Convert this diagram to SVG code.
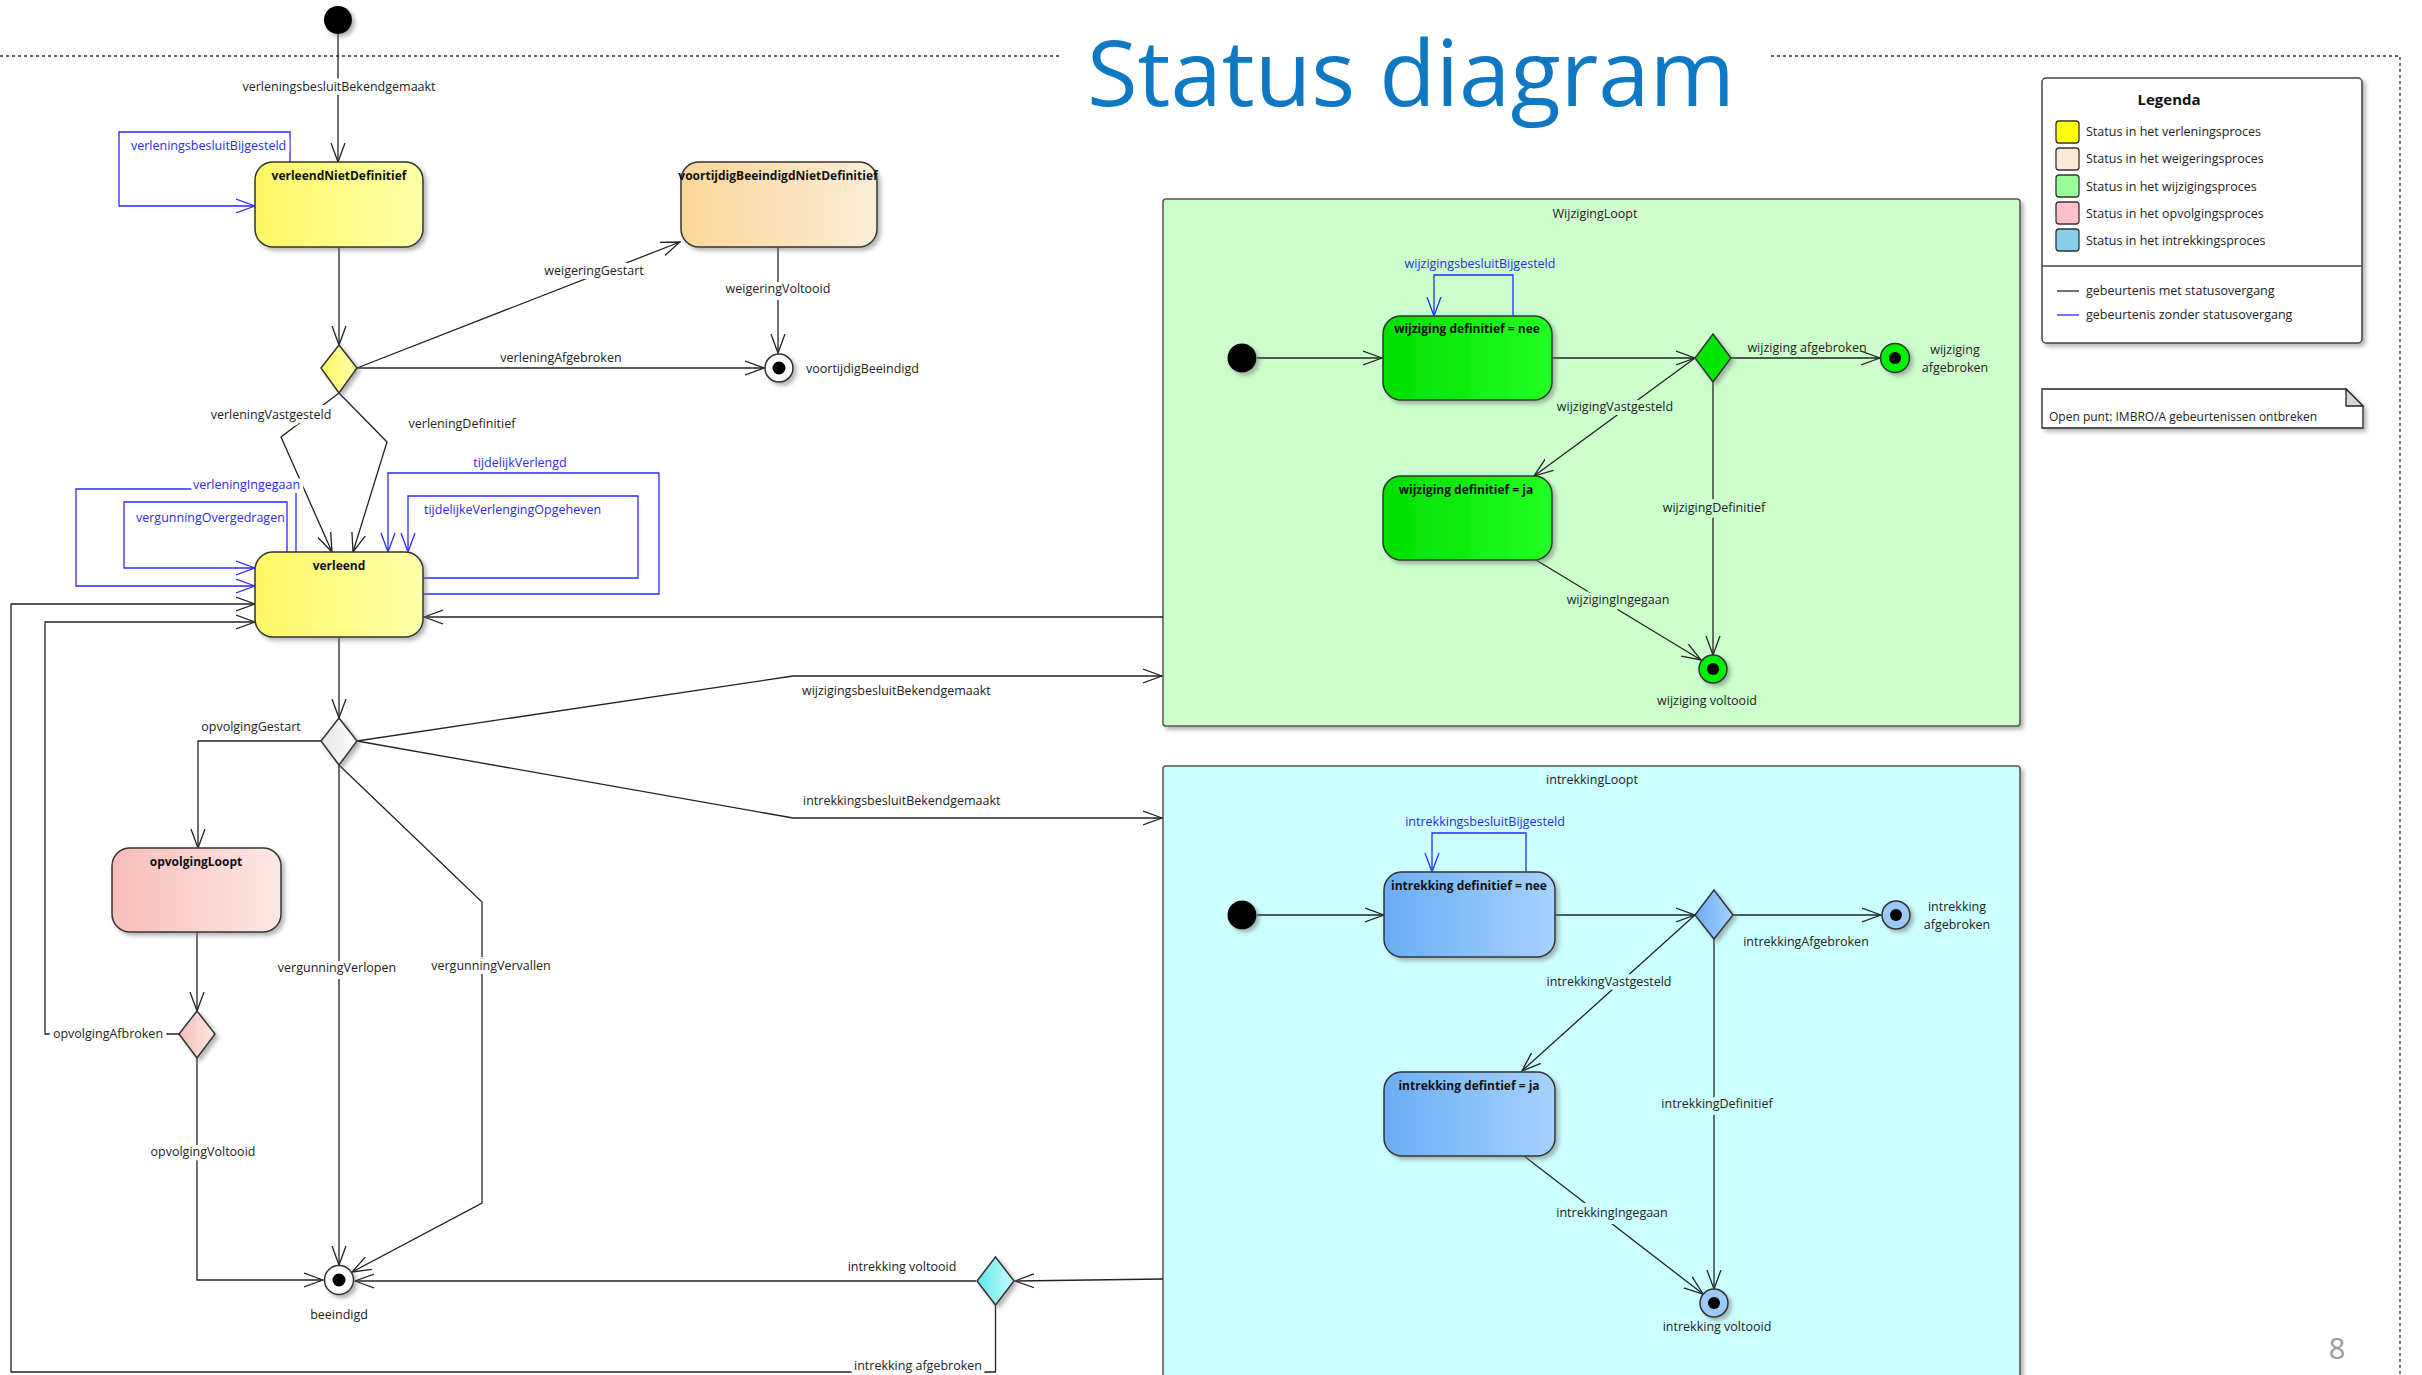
<svg xmlns="http://www.w3.org/2000/svg" width="2422" height="1375" viewBox="0 0 2422 1375">
<defs>
<style>
text{font-family:"Open Sans","Liberation Sans",sans-serif}
.lbl{font-size:12.5px;fill:#222}
.blue{fill:#2A2AE6}
.m{text-anchor:middle}
.halo{paint-order:stroke;stroke:#fff;stroke-width:8px;stroke-linejoin:round}
.hg{stroke:#CCFFCC}
.hc{stroke:#CCFFFF}
.ttl{font-size:12px;font-weight:bold;fill:#111;text-anchor:middle}
.ln{fill:none;stroke:#222;stroke-width:1.3}
.lb{fill:none;stroke:#2A2AFF;stroke-width:1.3}
.st{stroke:#333;stroke-width:1.5}
.dash{fill:none;stroke:#333;stroke-width:1.3;stroke-dasharray:3 3}
.leg{font-size:12.5px;fill:#222}
</style>
<filter id="sh" x="-20%" y="-20%" width="150%" height="150%">
<feDropShadow dx="3" dy="3" stdDeviation="2" flood-color="#777" flood-opacity="0.55"/>
</filter>
<marker id="ah" viewBox="0 0 20 16" refX="19" refY="8" markerWidth="20" markerHeight="16" markerUnits="userSpaceOnUse" orient="auto">
<path d="M0,1 L19,8 L0,15" fill="none" stroke="#222" stroke-width="1.3"/>
</marker>
<marker id="ahb" viewBox="0 0 20 16" refX="19" refY="8" markerWidth="20" markerHeight="16" markerUnits="userSpaceOnUse" orient="auto">
<path d="M0,1 L19,8 L0,15" fill="none" stroke="#2A2AFF" stroke-width="1.3"/>
</marker>
<linearGradient id="gY" x1="0" x2="1" y1="0" y2="0"><stop offset="0" stop-color="#FFF865"/><stop offset="1" stop-color="#FFFFA8"/></linearGradient>
<linearGradient id="gO" x1="0" x2="1" y1="0" y2="0"><stop offset="0" stop-color="#FAD69A"/><stop offset="1" stop-color="#FDEDD8"/></linearGradient>
<linearGradient id="gP" x1="0" x2="1" y1="0" y2="0"><stop offset="0" stop-color="#F9BDB8"/><stop offset="1" stop-color="#FDE8E6"/></linearGradient>
<linearGradient id="gG" x1="0" x2="1" y1="0" y2="0"><stop offset="0" stop-color="#00DE00"/><stop offset="1" stop-color="#22FF22"/></linearGradient>
<linearGradient id="gB" x1="0" x2="1" y1="0" y2="0"><stop offset="0" stop-color="#6AAEF5"/><stop offset="1" stop-color="#A6D2FF"/></linearGradient>
<linearGradient id="gW" x1="0" x2="1" y1="0" y2="0"><stop offset="0" stop-color="#E4E4E4"/><stop offset="1" stop-color="#FFFFFF"/></linearGradient>
<linearGradient id="gC" x1="0" x2="1" y1="0" y2="0"><stop offset="0" stop-color="#5EE6E6"/><stop offset="1" stop-color="#CCFFFF"/></linearGradient>
</defs>

<rect width="2422" height="1375" fill="#fff"/>

<g id="frame">
<path class="dash" d="M0,56 H1059 M1771,56 H2400 V1375"/>
<text x="1087" y="106" font-size="91" fill="#0F78C3" textLength="648" lengthAdjust="spacingAndGlyphs">Status diagram</text>
<text x="2337" y="1359" font-size="29" fill="#9A9A9A" class="m">8</text>
</g>

<!-- composite containers -->
<g id="WijzigingLoopt">
<rect x="1163" y="199" width="857" height="527" rx="3" fill="#CCFFCC" stroke="#555" stroke-width="1.5" filter="url(#sh)"/>
<text class="lbl m" x="1595" y="218">WijzigingLoopt</text>
</g>
<g id="intrekkingLoopt">
<rect x="1163" y="766" width="857" height="620" rx="3" fill="#CCFFFF" stroke="#555" stroke-width="1.5" filter="url(#sh)"/>
<text class="lbl m" x="1592" y="784">intrekkingLoopt</text>
</g>

<g id="connectors">
<path class="ln" d="M338,34 V162" marker-end="url(#ah)"/>
<path class="ln" d="M339,247 V345" marker-end="url(#ah)"/>
<path class="ln" d="M357,368 L680,242" marker-end="url(#ah)"/>
<path class="ln" d="M778,247 V353" marker-end="url(#ah)"/>
<path class="ln" d="M357,368 H764" marker-end="url(#ah)"/>
<path class="ln" d="M339,393 L281,437 L332,552" marker-end="url(#ah)"/>
<path class="ln" d="M339,393 L387,442 L353,552" marker-end="url(#ah)"/>
<path class="ln" d="M339,637 V718" marker-end="url(#ah)"/>
<path class="ln" d="M321,741 H198 V848" marker-end="url(#ah)"/>
<path class="ln" d="M357,741 L793,676 H1162" marker-end="url(#ah)"/>
<path class="ln" d="M357,741 L793,818 H1162" marker-end="url(#ah)"/>
<path class="ln" d="M1163,617 H424" marker-end="url(#ah)"/>
<path class="ln" d="M339,765 V1265" marker-end="url(#ah)"/>
<path class="ln" d="M339,765 L482,902 V1203 L352,1272" marker-end="url(#ah)"/>
<path class="ln" d="M197,932 V1011" marker-end="url(#ah)"/>
<path class="ln" d="M179,1034 H45 V622 H255" marker-end="url(#ah)"/>
<path class="ln" d="M197,1058 V1280 H323" marker-end="url(#ah)"/>
<path class="ln" d="M1163,1279 L1015,1281" marker-end="url(#ah)"/>
<path class="ln" d="M976,1281 H355" marker-end="url(#ah)"/>
<path class="ln" d="M995.5,1305 V1372 H11 V604 H255" marker-end="url(#ah)"/>
<path class="lb" d="M290,162 V132 H119 V206 H255" marker-end="url(#ahb)"/>
<path class="lb" d="M296,552 V489 H76 V586 H255" marker-end="url(#ahb)"/>
<path class="lb" d="M287,552 V502 H124 V568 H255" marker-end="url(#ahb)"/>
<path class="lb" d="M423,594 H659 V473 H388 V552" marker-end="url(#ahb)"/>
<path class="lb" d="M423,578 H638 V496 H408 V552" marker-end="url(#ahb)"/>
<!-- wijziging -->
<path class="ln" d="M1257,358 H1382" marker-end="url(#ah)"/>
<path class="ln" d="M1552,358 H1695" marker-end="url(#ah)"/>
<path class="ln" d="M1731,358 H1880" marker-end="url(#ah)"/>
<path class="ln" d="M1695,358 L1534,476" marker-end="url(#ah)"/>
<path class="ln" d="M1536,560 L1701,660" marker-end="url(#ah)"/>
<path class="ln" d="M1713,382 V655" marker-end="url(#ah)"/>
<path class="lb" d="M1513,316 V275 H1434 V316" marker-end="url(#ahb)"/>
<!-- intrekking -->
<path class="ln" d="M1257,915 H1384" marker-end="url(#ah)"/>
<path class="ln" d="M1555,915 H1695" marker-end="url(#ah)"/>
<path class="ln" d="M1733,915 H1881" marker-end="url(#ah)"/>
<path class="ln" d="M1695,915 L1522,1071" marker-end="url(#ah)"/>
<path class="ln" d="M1524,1156 L1703,1294" marker-end="url(#ah)"/>
<path class="ln" d="M1714,939 V1289" marker-end="url(#ah)"/>
<path class="lb" d="M1526,872 V833 H1432 V872" marker-end="url(#ahb)"/>
</g>

<g id="labels">
<text class="lbl m halo" x="339" y="91">verleningsbesluitBekendgemaakt</text>
<text class="lbl blue halo" x="131" y="150">verleningsbesluitBijgesteld</text>
<text class="lbl m halo" x="594" y="275">weigeringGestart</text>
<text class="lbl m halo" x="778" y="293">weigeringVoltooid</text>
<text class="lbl" x="806" y="373">voortijdigBeeindigd</text>
<text class="lbl m" x="561" y="362">verleningAfgebroken</text>
<text class="lbl m halo" x="271" y="419">verleningVastgesteld</text>
<text class="lbl m halo" x="462" y="428">verleningDefinitief</text>
<text class="lbl m blue" x="520" y="467">tijdelijkVerlengd</text>
<text class="lbl blue" x="424" y="514">tijdelijkeVerlengingOpgeheven</text>
<text class="lbl blue halo" x="193" y="489">verleningIngegaan</text>
<text class="lbl blue" x="136" y="522">vergunningOvergedragen</text>
<text class="lbl m" x="251" y="731">opvolgingGestart</text>
<text class="lbl" x="802" y="695">wijzigingsbesluitBekendgemaakt</text>
<text class="lbl" x="803" y="805">intrekkingsbesluitBekendgemaakt</text>
<text class="lbl m halo" x="337" y="972">vergunningVerlopen</text>
<text class="lbl m halo" x="491" y="970">vergunningVervallen</text>
<text class="lbl m halo" x="108" y="1038">opvolgingAfbroken</text>
<text class="lbl m halo" x="203" y="1156">opvolgingVoltooid</text>
<text class="lbl m" x="339" y="1319">beeindigd</text>
<text class="lbl m" x="902" y="1271">intrekking voltooid</text>
<text class="lbl m halo" x="918" y="1370">intrekking afgebroken</text>
<text class="lbl m blue" x="1480" y="268">wijzigingsbesluitBijgesteld</text>
<text class="lbl m" x="1807" y="352">wijziging afgebroken</text>
<text class="lbl m" x="1955" y="354">wijziging</text>
<text class="lbl m" x="1955" y="372">afgebroken</text>
<text class="lbl m halo hg" x="1615" y="411">wijzigingVastgesteld</text>
<text class="lbl m halo hg" x="1714" y="512">wijzigingDefinitief</text>
<text class="lbl m halo hg" x="1618" y="604">wijzigingIngegaan</text>
<text class="lbl m" x="1707" y="705">wijziging voltooid</text>
<text class="lbl m blue" x="1485" y="826">intrekkingsbesluitBijgesteld</text>
<text class="lbl m" x="1806" y="946">intrekkingAfgebroken</text>
<text class="lbl m" x="1957" y="911">intrekking</text>
<text class="lbl m" x="1957" y="929">afgebroken</text>
<text class="lbl m halo hc" x="1609" y="986">intrekkingVastgesteld</text>
<text class="lbl m halo hc" x="1717" y="1108">intrekkingDefinitief</text>
<text class="lbl m halo hc" x="1612" y="1217">intrekkingIngegaan</text>
<text class="lbl m" x="1717" y="1331">intrekking voltooid</text>
</g>

<g id="start"><circle cx="338" cy="20" r="14" fill="#000" filter="url(#sh)"/></g>
<g id="verleendNietDefinitief">
<rect x="255" y="162" width="168" height="85" rx="18" fill="url(#gY)" class="st" filter="url(#sh)"/>
<text class="ttl" x="339" y="180">verleendNietDefinitief</text>
</g>
<g id="voortijdigBeeindigdNietDefinitief">
<rect x="681" y="162" width="196" height="85" rx="18" fill="url(#gO)" class="st" filter="url(#sh)"/>
<text class="ttl" x="778" y="180">voortijdigBeeindigdNietDefinitief</text>
</g>
<g id="keuzeVerlening"><path d="M339,345 L357,368 L339,393 L321,368 Z" fill="url(#gY)" class="st" filter="url(#sh)"/></g>
<g id="voortijdigBeeindigd">
<circle cx="779" cy="368" r="14" fill="#fff" class="st" filter="url(#sh)"/>
<circle cx="779" cy="368" r="6.5" fill="#000"/>
</g>
<g id="verleend">
<rect x="255" y="552" width="168" height="85" rx="18" fill="url(#gY)" class="st" filter="url(#sh)"/>
<text class="ttl" x="339" y="570">verleend</text>
</g>
<g id="keuzeVerleend"><path d="M339,718 L357,741 L339,765 L321,741 Z" fill="url(#gW)" class="st" filter="url(#sh)"/></g>
<g id="opvolgingLoopt">
<rect x="112" y="848" width="169" height="84" rx="18" fill="url(#gP)" class="st" filter="url(#sh)"/>
<text class="ttl" x="196" y="866">opvolgingLoopt</text>
</g>
<g id="keuzeOpvolging"><path d="M197,1011 L215,1034 L197,1058 L179,1034 Z" fill="url(#gP)" class="st" filter="url(#sh)"/></g>
<g id="beeindigd">
<circle cx="339" cy="1280" r="14.5" fill="#fff" class="st" filter="url(#sh)"/>
<circle cx="339" cy="1280" r="6.5" fill="#000"/>
</g>
<g id="keuzeIntrekking"><path d="M995.5,1257 L1014,1281 L995.5,1305 L977,1281 Z" fill="url(#gC)" class="st" filter="url(#sh)"/></g>

<g id="wStart"><circle cx="1242" cy="358" r="14.5" fill="#000" filter="url(#sh)"/></g>
<g id="wijzigingNee">
<rect x="1383" y="316" width="169" height="84" rx="18" fill="url(#gG)" class="st" filter="url(#sh)"/>
<text class="ttl" x="1467" y="333">wijziging definitief = nee</text>
</g>
<g id="wijzigingJa">
<rect x="1383" y="476" width="169" height="84" rx="18" fill="url(#gG)" class="st" filter="url(#sh)"/>
<text class="ttl" x="1466" y="494">wijziging definitief = ja</text>
</g>
<g id="wKeuze"><path d="M1713,334 L1731,358 L1713,382 L1695,358 Z" fill="#00E600" class="st" filter="url(#sh)"/></g>
<g id="wAfgebroken">
<circle cx="1895" cy="358" r="14.5" fill="#00EE00" class="st" filter="url(#sh)"/>
<circle cx="1895" cy="358" r="6" fill="#000"/>
</g>
<g id="wVoltooid">
<circle cx="1713" cy="669" r="14" fill="#00EE00" class="st" filter="url(#sh)"/>
<circle cx="1713" cy="669" r="6" fill="#000"/>
</g>

<g id="iStart"><circle cx="1242" cy="915" r="14.5" fill="#000" filter="url(#sh)"/></g>
<g id="intrekkingNee">
<rect x="1384" y="872" width="171" height="85" rx="18" fill="url(#gB)" class="st" filter="url(#sh)"/>
<text class="ttl" x="1469" y="890">intrekking definitief = nee</text>
</g>
<g id="intrekkingJa">
<rect x="1384" y="1072" width="171" height="84" rx="18" fill="url(#gB)" class="st" filter="url(#sh)"/>
<text class="ttl" x="1469" y="1090">intrekking defintief = ja</text>
</g>
<g id="iKeuze"><path d="M1714,890 L1733,915 L1714,939 L1695,915 Z" fill="url(#gB)" class="st" filter="url(#sh)"/></g>
<g id="iAfgebroken">
<circle cx="1896" cy="915" r="14" fill="#9CC9F5" class="st" filter="url(#sh)"/>
<circle cx="1896" cy="915" r="6" fill="#000"/>
</g>
<g id="iVoltooid">
<circle cx="1714" cy="1303" r="14" fill="#9CC9F5" class="st" filter="url(#sh)"/>
<circle cx="1714" cy="1303" r="6" fill="#000"/>
</g>

<g id="legenda">
<rect x="2042" y="78" width="320" height="265" rx="4" fill="#fff" stroke="#444" stroke-width="1.5" filter="url(#sh)"/>
<text x="2169" y="105" font-size="15" font-weight="bold" fill="#111" text-anchor="middle">Legenda</text>
<rect x="2056" y="121" width="23" height="22" rx="3" fill="#FFFF00" stroke="#333" stroke-width="1.3"/>
<rect x="2056" y="148" width="23" height="22" rx="3" fill="#FBE9D6" stroke="#333" stroke-width="1.3"/>
<rect x="2056" y="175" width="23" height="22" rx="3" fill="#99FF99" stroke="#333" stroke-width="1.3"/>
<rect x="2056" y="202" width="23" height="22" rx="3" fill="#FFC0CB" stroke="#333" stroke-width="1.3"/>
<rect x="2056" y="229" width="23" height="22" rx="3" fill="#87CEEB" stroke="#333" stroke-width="1.3"/>
<text class="leg" x="2086" y="136">Status in het verleningsproces</text>
<text class="leg" x="2086" y="163">Status in het weigeringsproces</text>
<text class="leg" x="2086" y="191">Status in het wijzigingsproces</text>
<text class="leg" x="2086" y="218">Status in het opvolgingsproces</text>
<text class="leg" x="2086" y="245">Status in het intrekkingsproces</text>
<line x1="2042" y1="266" x2="2362" y2="266" stroke="#444" stroke-width="1.3"/>
<line x1="2057" y1="291" x2="2079" y2="291" stroke="#222" stroke-width="1.3"/>
<line x1="2057" y1="315" x2="2079" y2="315" stroke="#2A2AFF" stroke-width="1.3"/>
<text class="leg" x="2086" y="295">gebeurtenis met statusovergang</text>
<text class="leg" x="2086" y="319">gebeurtenis zonder statusovergang</text>
</g>

<g id="note">
<path d="M2042,389 H2346 L2363,406 V428 H2042 Z" fill="#fff" stroke="#222" stroke-width="1.3" filter="url(#sh)"/>
<path d="M2346,389 V406 H2363 Z" fill="#D8D8D8" stroke="#222" stroke-width="1.3"/>
<text x="2049" y="421" font-size="12" fill="#222">Open punt: IMBRO/A gebeurtenissen ontbreken</text>
</g>
</svg>
